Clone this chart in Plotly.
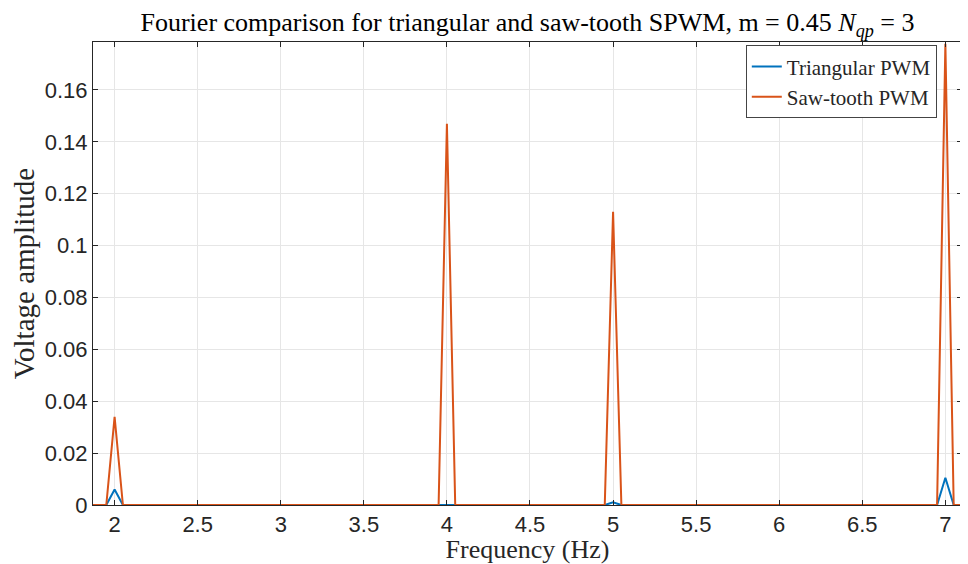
import plotly.graph_objects as go

# Frequency points (Hz) where the spectra are non-zero / their zero-valued shoulders
freq = [1.87, 1.95, 2.0, 2.05, 3.95, 4.0, 4.05, 4.95, 5.0, 5.05, 6.95, 7.0, 7.05, 7.1]
tri_amp = [0, 0, 0.006, 0, 0, 0.0, 0, 0, 0.001, 0, 0, 0.0105, 0, 0]
saw_amp = [0, 0, 0.034, 0, 0, 0.147, 0, 0, 0.113, 0, 0, 0.1778, 0, 0]

x_ticks = [2, 2.5, 3, 3.5, 4, 4.5, 5, 5.5, 6, 6.5, 7]
x_tick_text = ["2", "2.5", "3", "3.5", "4", "4.5", "5", "5.5", "6", "6.5", "7"]
y_ticks = [0, 0.02, 0.04, 0.06, 0.08, 0.1, 0.12, 0.14, 0.16]
y_tick_text = ["0", "0.02", "0.04", "0.06", "0.08", "0.1", "0.12", "0.14", "0.16"]

serif = "Liberation Serif, DejaVu Serif, serif"
sans = "Liberation Sans, Arial, sans-serif"

fig = go.Figure()
fig.add_trace(go.Scatter(x=freq, y=tri_amp, mode="lines", name="Triangular PWM",
                         line=dict(color="#0072BD", width=2)))
fig.add_trace(go.Scatter(x=freq, y=saw_amp, mode="lines", name="Saw-tooth PWM",
                         line=dict(color="#D95319", width=2)))

axis_common = dict(showgrid=True, gridcolor="#E6E6E6", gridwidth=1,
                   showline=True, linecolor="#262626", linewidth=1, mirror="ticks",
                   ticks="inside", ticklen=5, tickcolor="#262626", automargin=False,
                   zeroline=False, tickfont=dict(family=sans, size=22, color="#262626"))

# the page body adds an 8px offset, so the figure is 8px smaller than the window
W, H = 960, 556
fig.update_layout(
    width=W, height=H,
    paper_bgcolor="white", plot_bgcolor="white",
    margin=dict(l=85, r=6, t=34, b=59),
    title=dict(text="Fourier comparison for triangular and saw-tooth SPWM, m = 0.45 <i>N</i><sub><i>qp</i></sub> = 3",
               x=0.5, xanchor="center", xref="paper",
               yref="container", y=1 - 14 / H, yanchor="middle",
               font=dict(family=serif, size=26, color="black")),
    xaxis=dict(range=[1.87, 7.1], tickvals=x_ticks, ticktext=x_tick_text,
               title=dict(text="Frequency (Hz)", font=dict(family=serif, size=26, color="#262626"), standoff=5),
               **axis_common),
    yaxis=dict(range=[0, 0.1785], tickvals=y_ticks, ticktext=y_tick_text,
               title=dict(text="Voltage amplitude", font=dict(family=serif, size=29, color="#262626"), standoff=5),
               **axis_common),
    legend=dict(x=0.971, y=0.993, xanchor="right", yanchor="top",
                bgcolor="white", bordercolor="#444444", borderwidth=1,
                font=dict(family=serif, size=21, color="#262626"),
                tracegroupgap=0, itemwidth=30),
    showlegend=True,
)

fig.write_html("out.html")
